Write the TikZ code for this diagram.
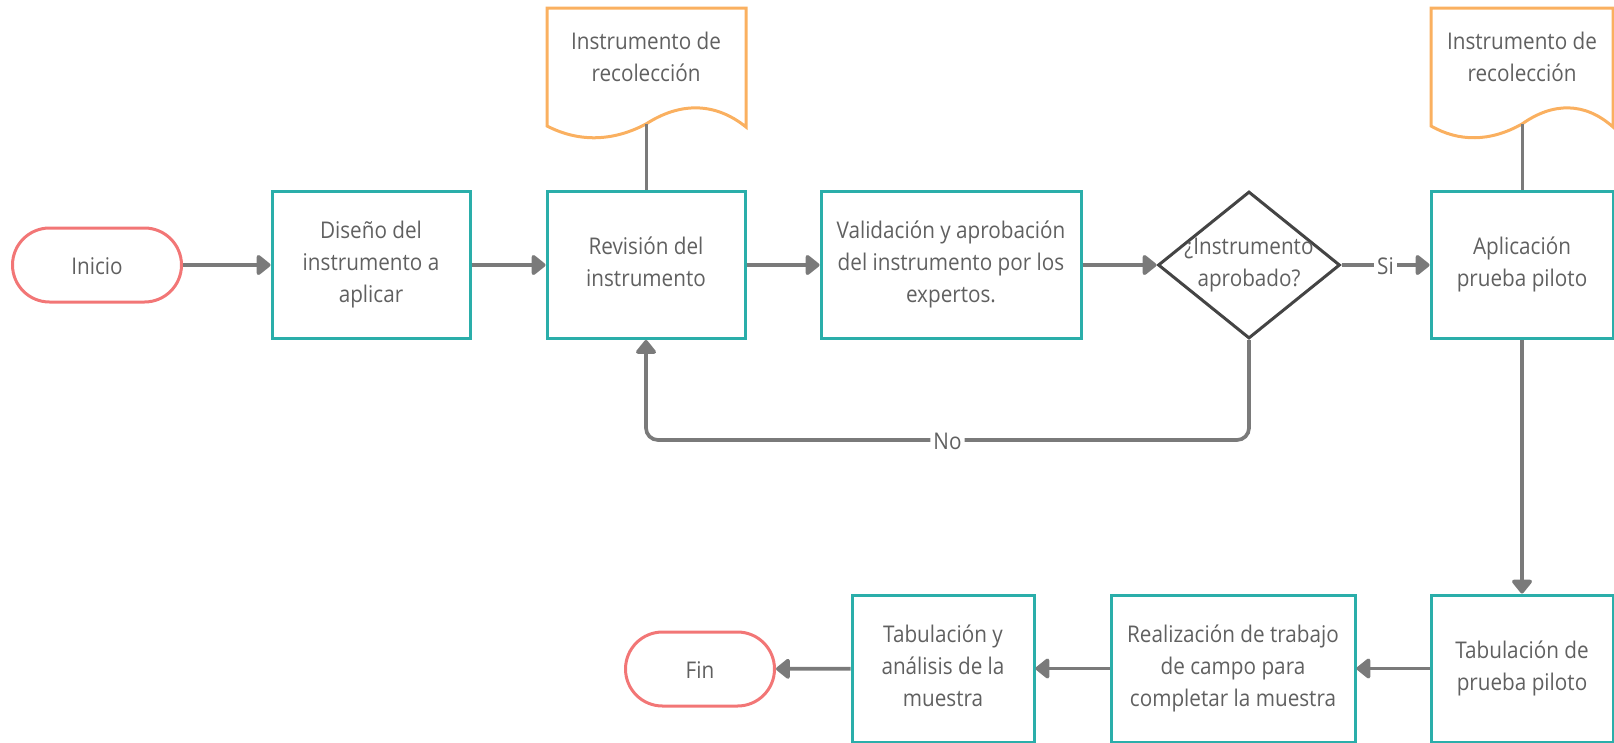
\documentclass[tikz,border=0pt]{standalone}
\usepackage{fontspec}
\setmainfont{Open Sans}[FakeStretch=0.9]
\usetikzlibrary{arrows.meta,shapes.geometric}
\definecolor{boxteal}{RGB}{42,174,170}
\definecolor{termred}{RGB}{242,118,118}
\definecolor{docorange}{RGB}{250,176,96}
\definecolor{linegray}{RGB}{122,122,122}
\definecolor{textgray}{RGB}{96,96,96}
\definecolor{diagray}{RGB}{68,68,68}
\begin{document}
\begin{tikzpicture}[x=1pt, y=-1pt,
    every node/.style={font=\fontsize{23}{32}\selectfont, text=textgray, align=center,
        execute at begin node={\rule{0pt}{24pt}}, execute at end node={\rule[-6pt]{0pt}{6pt}}},
    process/.style={draw=boxteal, line width=3pt, minimum height=147pt, inner sep=0pt},
    terminal/.style={draw=termred, line width=3pt, rounded corners=37pt, minimum height=74pt},
    decision/.style={draw=diagray, line width=3pt, diamond, minimum width=182pt, minimum height=147pt, inner sep=0pt},
    docsheet/.style={draw=docorange, line width=3pt},
    flow/.style={draw=linegray, line width=3.7pt, -{Triangle[length=15pt, width=23pt, round]}},
    link/.style={draw=linegray, line width=3pt},
    choice/.style={fill=white, inner sep=3pt}]
    \useasboundingbox (0,0) rectangle (1614,742);
    % Top row
    \node[terminal, minimum width=169pt] (inicio) at (97,265) {Inicio};
    \node[process, minimum width=198pt] (diseno) at (371,265) {Diseño del\\instrumento a\\aplicar};
    \node[process, minimum width=198pt] (revision) at (646,265) {Revisión del\\instrumento};
    \node[process, minimum width=260pt] (valida) at (951,265) {Validación y aprobación\\del instrumento por los\\expertos.};
    \node[decision] (aprob) at (1249,265) {};
    \node (aprobtxt) at (aprob) {¿Instrumento\\aprobado?};
    \node[process, minimum width=182pt] (aplica) at (1522,265) {Aplicación\\prueba piloto};
    % Bottom row
    \node[process, minimum width=182pt] (tabpil) at (1522,668.5) {Tabulación de\\prueba piloto};
    \node[process, minimum width=244pt] (campo) at (1233,668.5) {Realización de trabajo\\de campo para\\completar la muestra};
    \node[process, minimum width=182pt] (tabmue) at (943,668.5) {Tabulación y\\análisis de la\\muestra};
    \node[terminal, minimum width=149pt] (fin) at (700,669) {Fin};
    % Documents
    \draw[docsheet] (547,8) -- (746,8) -- (746,127)
        .. controls (715,102) and (680,102) .. (646,124)
        .. controls (612,142) and (578,142) .. (547,126) -- cycle;
    \coordinate (docaend) at (646,124);
    \node (docatxt) at (646,60) {Instrumento de\\recolección};
    \draw[docsheet] (1431,8) -- (1613,8) -- (1613,127)
        .. controls (1585,102) and (1553,102) .. (1522,124)
        .. controls (1490,142) and (1459,142) .. (1431,126) -- cycle;
    \coordinate (docbend) at (1522,124);
    \node (docbtxt) at (1522,60) {Instrumento de\\recolección};
    % Connectors
    \coordinate (nobase) at (0,440);
    \draw[flow] (inicio) -- (diseno);
    \draw[flow] (diseno) -- (revision);
    \draw[flow] (revision) -- (valida);
    \draw[flow] (valida) -- (aprob);
    \draw[flow] (aprob) -- node[choice] (si) {Si} (aplica);
    \draw[flow, rounded corners=12pt] (aprob.south) -- (aprob.south |- nobase)
        -- node[choice] (no) {No} (revision.south |- nobase) -- (revision.south);
    \draw[flow] (aplica) -- (tabpil);
    \draw[flow] (tabpil) -- (campo);
    \draw[flow] (campo) -- (tabmue);
    \draw[flow] (tabmue) -- (fin);
    \draw[link] (docaend) -- (revision);
    \draw[link] (docbend) -- (aplica);
\end{tikzpicture}
\end{document}
